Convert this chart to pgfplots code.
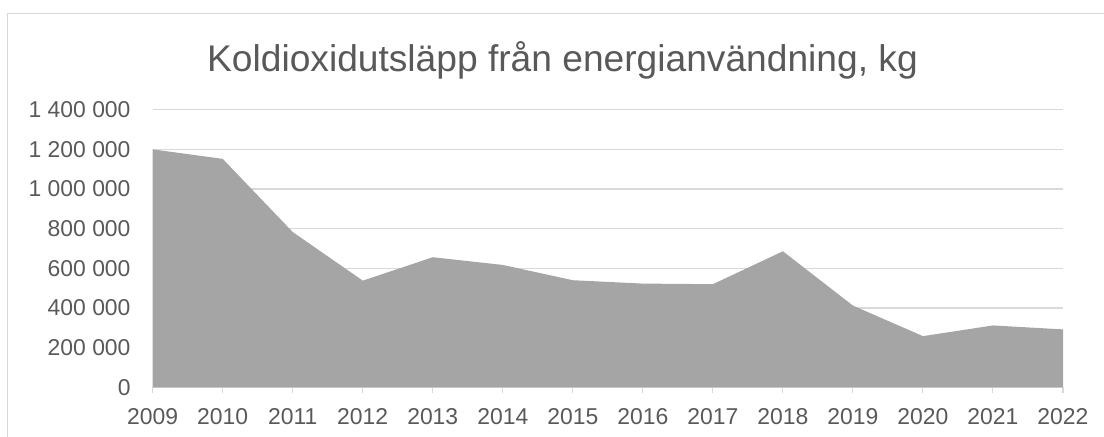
\documentclass[border=0pt]{standalone}
\usepackage{pgfplots}
\pgfplotsset{compat=1.18}
\usepackage{fontspec}
\setmainfont{Liberation Sans}
\definecolor{txt}{HTML}{595959}
\definecolor{areac}{HTML}{A5A5A5}
\definecolor{gridc}{HTML}{D9D9D9}
\begin{document}
\begin{tikzpicture}
\useasboundingbox (0bp,0bp) rectangle (1104bp,437bp);
\draw[gridc, line width=1.2bp] (7.5bp,0bp) -- (7.5bp,423.5bp) -- (1104bp,423.5bp);
\node[anchor=base, text=txt, font=\fontsize{37.3}{44}\selectfont, inner sep=0pt] at (562.5bp,365.5bp) {Koldioxidutsläpp från energianvändning, kg};
\begin{axis}[
  at={(152.7bp,49.7bp)}, anchor=south west,
  scale only axis, width=910.3bp, height=277.6bp,
  xmin=2009, xmax=2022, ymin=0, ymax=1400000,
  scaled y ticks=false,
  axis x line*=bottom, axis y line*=left,
  x axis line style={gridc, line width=1.2bp, -},
  y axis line style={draw=none},
  xtick={2009,...,2022},
  xticklabels={2009,2010,2011,2012,2013,2014,2015,2016,2017,2018,2019,2020,2021,2022},
  ytick={0,200000,400000,600000,800000,1000000,1200000,1400000},
  yticklabels={0,200 000,400 000,600 000,800 000,1 000 000,1 200 000,1 400 000},
  tick align=outside,
  major tick length=6bp,
  x tick style={gridc, line width=1.2bp},
  y tick style={draw=none},
  ymajorgrids, grid style={gridc, line width=1.2bp},
  tick label style={text=txt, font=\fontsize{23}{27}\selectfont, inner sep=0pt},
  yticklabel style={anchor=east, xshift=-16bp},
  xticklabel style={anchor=north, yshift=-15bp},
  clip=false,
]
\addplot[fill=areac, draw=none] coordinates {
(2009,1200000) (2010,1152000) (2011,783000) (2012,538000) (2013,656000)
(2014,617000) (2015,540000) (2016,523000) (2017,520000) (2018,686000)
(2019,412000) (2020,258000) (2021,312000) (2022,292000)
} \closedcycle;
\end{axis}
\end{tikzpicture}
\end{document}
